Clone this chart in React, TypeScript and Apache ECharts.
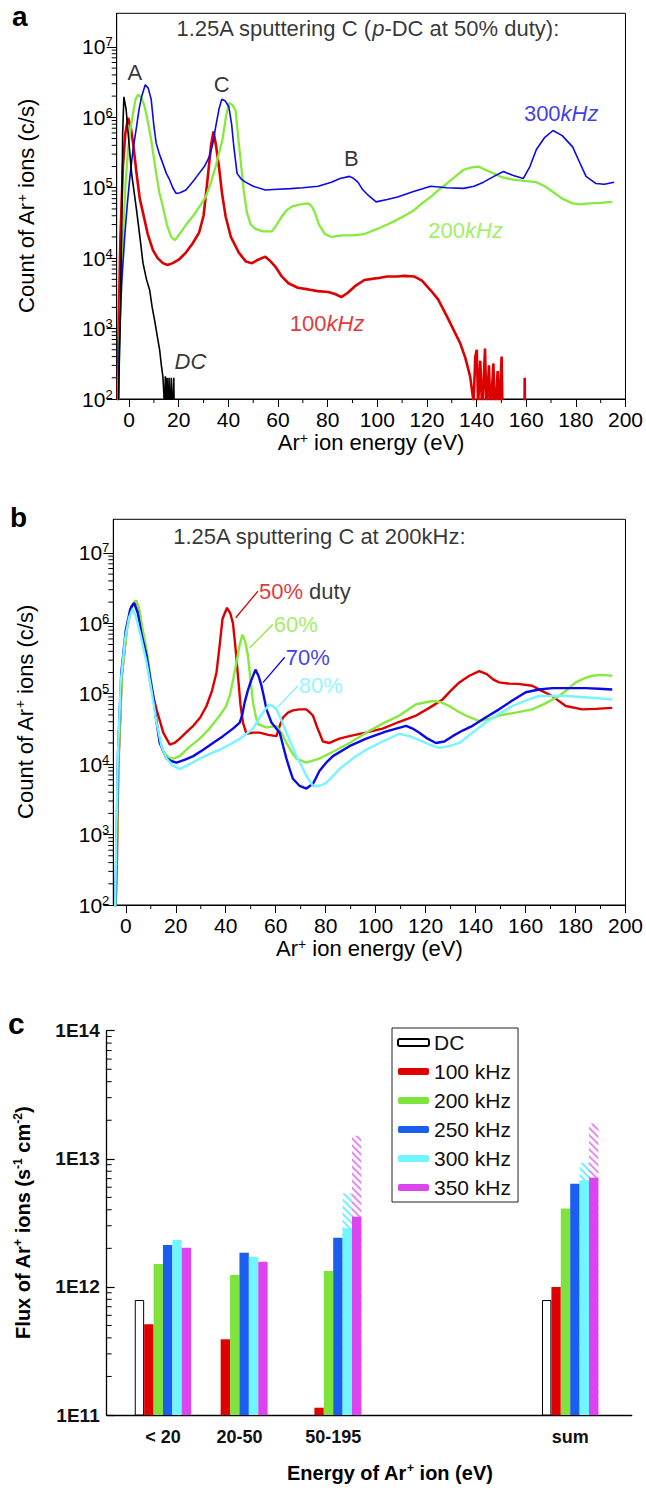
import React, { useEffect, useRef } from 'react';
import * as echarts from 'echarts';

const FONT = '"Liberation Sans", Arial, Helvetica, sans-serif';

// ---------- axis ticks ----------
const energyTicks = [0, 20, 40, 60, 80, 100, 120, 140, 160, 180, 200];
const energyMinorTicks = [10, 30, 50, 70, 90, 110, 130, 150, 170, 190];
const countTicks = [1e2, 1e3, 1e4, 1e5, 1e6, 1e7];
const fluxTicks = [1e11, 1e12, 1e13, 1e14];
const minorMultipliers = [2, 3, 4, 5, 6, 7, 8, 9];

// ---------- panel a : 1.25A sputtering C, p-DC 50% duty ----------
const aDC: number[][] = [
  [-4.5, 50], [-3.7, 870], [-3, 2.3e4], [-2.6, 6e5], [-2.1, 1.95e6], [-1.2, 1.3e6], [-0.4, 6e5],
  [1, 1.6e5], [3, 4.8e4], [4.5, 1.8e4], [5.6, 8.5e3], [7, 5e3], [8.3, 3.5e3], [9.3, 2e3],
  [10.3, 1.3e3], [11.3, 800], [12.3, 500], [13, 300], [13.6, 210], [14, 120], [14.3, 60],
  [14.6, 210], [14.9, 60], [15.3, 200], [15.6, 50], [16.1, 200], [16.4, 50], [17, 200],
  [17.2, 50], [18, 200], [18.2, 50],
];
const a100: number[][] = [
  [-4.6, 50], [-4.4, 500], [-3.5, 2e4], [-2.5, 2e5], [-1.5, 6e5], [-0.4, 9.8e5], [0.6, 7.5e5],
  [1.6, 4.3e5], [3, 1.6e5], [4.3, 7e4], [5.6, 4.4e4], [7.5, 2.2e4], [9.6, 1.3e4], [11.5, 1e4],
  [13.6, 8.5e3], [15.5, 8e3], [17.6, 8.5e3], [20, 9.5e3], [22.9, 1.2e4], [25.5, 1.6e4],
  [28.2, 2.3e4], [30, 4e4], [31.6, 1.3e5], [33, 4e5], [34, 6.3e5], [35, 4e5], [36.2, 2e5],
  [37.5, 8e4], [38.9, 3.9e4], [41, 2e4], [44.2, 1.2e4], [47, 9e3], [49.5, 8.5e3], [52, 9.5e3],
  [54.9, 1.05e4], [57, 9e3], [58.9, 7.6e3], [61.5, 5.5e3], [64.2, 4.4e3], [68, 3.8e3],
  [72.2, 3.6e3], [76, 3.4e3], [80.2, 3.3e3], [83, 3.1e3], [85.5, 2.8e3], [88, 3.2e3],
  [91, 4e3], [94.8, 4.9e3], [100, 5.2e3], [104, 5.5e3], [108, 5.5e3], [111, 5.6e3],
  [114.8, 5.5e3], [118, 4.8e3], [121.5, 3.5e3], [124.5, 2.6e3], [128, 1.5e3], [130.5, 1e3],
  [133.4, 620], [135.5, 380], [137.4, 210], [138.8, 90], [139.5, 400], [140.1, 500],
  [140.6, 80], [141.5, 350], [142.3, 60], [143.4, 520], [144, 70], [145, 300], [145.6, 60],
  [146.8, 320], [147.3, 50], [148.5, 250], [149, 60], [150.1, 400], [150.5, 50],
  [159.3, 50], [159.4, 200], [159.5, 50],
];
const a200: number[][] = [
  [-4.6, 50], [-4.2, 200], [-3.5, 2e3], [-2.4, 2.3e4], [-1.4, 1.2e5], [-0.4, 3.5e5], [0.6, 7e5],
  [1.6, 1.15e6], [2.6, 1.8e6], [3.6, 2.1e6], [5, 1.9e6], [6.3, 1.4e6], [7.6, 8.5e5],
  [8.9, 4.8e5], [10.9, 1.6e5], [12.2, 8.5e4], [13.6, 5.4e4], [15.2, 3e4], [16.9, 2e4],
  [18.5, 1.8e4], [20.3, 2.2e4], [23, 3e4], [25.6, 3.9e4], [28.2, 5.3e4], [30.9, 7.4e4],
  [33, 1.2e5], [34.9, 2e5], [36.3, 3.2e5], [37.6, 4.8e5], [39, 1e6], [40.2, 1.6e6],
  [41.6, 1.5e6], [42.9, 1.26e6], [44, 5e5], [44.9, 2.5e5], [46.2, 9e4], [47.5, 4.4e4],
  [49, 3e4], [50.9, 2.6e4], [54, 2.4e4], [57.5, 2.4e4], [59.5, 3e4], [61.5, 3.9e4],
  [63.5, 4.8e4], [65.5, 5.4e4], [69, 5.8e4], [72.2, 6e4], [73.5, 5.5e4], [74.9, 4.4e4],
  [76.5, 3e4], [78.9, 2.2e4], [81.5, 2e4], [86, 2.1e4], [90, 2.1e4], [94.8, 2.2e4],
  [100, 2.6e4], [104, 3e4], [108, 3.5e4], [111, 4e4], [114.8, 4.8e4], [118, 6e4],
  [121.5, 7.4e4], [125, 9.5e4], [128.1, 1.15e5], [131.5, 1.45e5], [134.8, 1.8e5],
  [138, 1.95e5], [140.8, 2e5], [143.5, 1.8e5], [146.8, 1.6e5], [150.5, 1.4e5],
  [154.8, 1.3e5], [159, 1.25e5], [164.1, 1.2e5], [167.5, 1.05e5], [170.8, 8.7e4],
  [174.5, 7e4], [178.7, 6e4], [182, 5.8e4], [185.4, 6e4], [190, 6.1e4], [194.7, 6.3e4],
];
const a300: number[][] = [
  [-4.3, 50], [-4, 500], [-3, 4.4e3], [-1.7, 2.2e4], [-0.7, 6e4], [0.3, 1.4e5], [1.6, 3.5e5],
  [3, 7.4e5], [4, 1.3e6], [5, 1.95e6], [6.5, 2.9e6], [7.7, 2.6e6], [8.9, 1.8e6], [9.9, 8e5],
  [10.9, 4.3e5], [12.2, 3e5], [13.6, 2.2e5], [15, 1.6e5], [16.3, 1.3e5], [17.6, 1e5],
  [18.9, 8.3e4], [20.5, 8.5e4], [22.9, 9.3e4], [25.5, 1.2e5], [28.2, 1.6e5], [30.3, 2e5],
  [32.2, 2.7e5], [33.6, 4e5], [34.9, 7.4e5], [36.2, 1.3e6], [37.3, 1.8e6], [38.8, 1.7e6],
  [40.2, 1.4e6], [41.3, 8e5], [42.2, 3.8e5], [43.5, 1.6e5], [45, 1.35e5], [46.9, 1.2e5],
  [50, 1.05e5], [54.9, 9.3e4], [60, 9.5e4], [65, 9.7e4], [70, 1e5], [76.2, 1.05e5],
  [81.5, 1.2e5], [85, 1.35e5], [88.8, 1.45e5], [90.5, 1.35e5], [92.2, 1.2e5], [94, 9.5e4],
  [96.2, 7.9e4], [99.5, 6.3e4], [104, 6.8e4], [108.2, 7.4e4], [114, 8.7e4], [121.5, 1.05e5],
  [128, 1e5], [134.8, 9.8e4], [139, 1.05e5], [142.8, 1.2e5], [147, 1.45e5], [150.8, 1.7e5],
  [154.5, 1.5e5], [158.8, 1.35e5], [161.5, 2e5], [164.1, 3.5e5], [167.5, 5.2e5],
  [170.8, 6.5e5], [174.5, 5.5e5], [178.7, 3.8e5], [181.5, 2.3e5], [184.1, 1.45e5],
  [188, 1.15e5], [191.5, 1.12e5], [195.4, 1.2e5],
];

// ---------- panel b : 200 kHz at different duty ----------
const b50: number[][] = [
  [-4.3, 50], [-3.6, 330], [-3, 8.5e3], [-1.6, 1.8e5], [0.35, 8.1e5], [2.3, 1.75e6],
  [4.06, 2.1e6], [5.2, 1.6e6], [6.3, 9.1e5], [8.3, 3.1e5], [10.3, 1.15e5], [12.3, 6e4],
  [15, 2.8e4], [17.6, 1.9e4], [19.5, 2e4], [21.6, 2.3e4], [24.5, 2.9e4], [27, 3.5e4],
  [29.8, 4.6e4], [32.3, 6.7e4], [34.5, 1.1e5], [36.3, 2e5], [37.6, 5e5], [38.7, 1.15e6],
  [40.5, 1.66e6], [41.8, 1.4e6], [42.9, 1e6], [43.9, 4.5e5], [44.9, 1.8e5], [45.9, 7e4],
  [46.9, 3.9e4], [48.3, 2.7e4], [51, 2.8e4], [53.6, 2.8e4], [57, 2.6e4], [60.3, 2.5e4],
  [61.6, 3.5e4], [62.9, 4.6e4], [64.9, 5.4e4], [66.9, 5.8e4], [69.5, 6e4], [72.2, 6e4],
  [73.5, 5.5e4], [74.9, 4.9e4], [76.5, 3.4e4], [78.9, 2.1e4], [81.5, 2e4], [85.5, 2.3e4],
  [89.5, 2.5e4], [96, 2.8e4], [102.8, 3.2e4], [109.5, 4e4], [116.2, 4.9e4], [121.5, 6.3e4],
  [126.8, 8.3e4], [130, 1.1e5], [133.5, 1.45e5], [137.5, 1.8e5], [141.5, 2.1e5],
  [144.5, 1.9e5], [147, 1.6e5], [149.4, 1.45e5], [153, 1.4e5], [157, 1.38e5], [162.7, 1.3e5],
  [166.5, 1.1e5], [170.7, 9.3e4], [173.5, 7.8e4], [176.1, 6.7e4], [182.7, 6e4], [188, 6.1e4],
  [194.7, 6.3e4],
];
const b60: number[][] = [
  [-4.3, 50], [-3.7, 400], [-3, 1e4], [-1.5, 2e5], [0.5, 8.5e5], [2.5, 1.8e6], [4.2, 2.1e6],
  [5.5, 1.5e6], [6.5, 9e5], [8.3, 4.3e5], [10, 1.6e5], [11, 9e4], [12.3, 3.9e4], [13.6, 2.2e4],
  [15, 1.5e4], [17, 1.25e4], [19, 1.2e4], [21.6, 1.3e4], [25, 1.7e4], [29.6, 2.3e4],
  [33.5, 3.2e4], [37.6, 4.9e4], [40, 6.5e4], [41.6, 9.3e4], [43, 1.6e5], [44.3, 2.8e5],
  [45.5, 4.8e5], [46.7, 6.9e5], [47.8, 5.5e5], [48.9, 3.5e5], [49.9, 1.6e5], [50.9, 7.6e4],
  [52, 4.8e4], [52.9, 3.7e4], [56.3, 3.3e4], [60.3, 3.5e4], [62.3, 2.8e4], [64.3, 2e4],
  [66.3, 1.5e4], [68.3, 1.2e4], [72.2, 1.05e4], [77.5, 1.2e4], [82.9, 1.5e4], [89.5, 2e4],
  [96.2, 2.8e4], [103, 3.8e4], [109.5, 4.9e4], [116.2, 7.1e4], [122.8, 7.9e4], [126, 7.6e4],
  [129.5, 6.7e4], [133, 5.6e4], [136.1, 4.9e4], [141.5, 4.1e4], [145.5, 4.4e4], [149.4, 4.9e4],
  [156, 5.4e4], [162.7, 6e4], [168, 7.3e4], [173.4, 9.3e4], [176.8, 1.15e5], [180.1, 1.45e5],
  [183.5, 1.65e5], [186.7, 1.8e5], [190.5, 1.85e5], [194.7, 1.8e5],
];
const b70: number[][] = [
  [-4.4, 50], [-3.8, 500], [-3.1, 1.5e4], [-1.8, 2e5], [0, 8e5], [1.8, 1.6e6], [3.3, 1.95e6],
  [4.8, 1.4e6], [6.3, 7e5], [8.3, 3.5e5], [9.7, 1.7e5], [11, 9.3e4], [12.3, 4e4], [13.6, 2e4],
  [16.3, 1.2e4], [18.5, 1.1e4], [20.3, 1.05e4], [23.5, 1.15e4], [27, 1.3e4], [31, 1.6e4],
  [34.9, 2e4], [38.9, 2.5e4], [42.9, 3.2e4], [45.6, 3.9e4], [46.6, 5e4], [47.6, 7.6e4],
  [48.8, 1.1e5], [49.9, 1.45e5], [51.9, 2.2e5], [53.1, 1.8e5], [54.3, 1.3e5], [55.3, 9e4],
  [56.3, 6e4], [58.3, 3.9e4], [61.6, 2.8e4], [63, 1.8e4], [64.3, 1.2e4], [65.6, 8.5e3],
  [66.9, 6.2e3], [69.6, 4.9e3], [72.3, 4.5e3], [75, 5.3e3], [77.5, 8e3], [80.2, 1.05e4],
  [82.9, 1.3e4], [89.5, 1.8e4], [96.2, 2.3e4], [104, 2.9e4], [112.2, 3.5e4], [114.8, 3.2e4],
  [117.5, 2.8e4], [120.8, 2.3e4], [124.1, 2e4], [127.5, 2.1e4], [130.8, 2.5e4], [134.8, 3e4],
  [138.8, 3.5e4], [144, 4.6e4], [149.4, 6e4], [154.7, 8e4], [160.1, 1.05e5], [165.4, 1.15e5],
  [170.7, 1.2e5], [177.4, 1.2e5], [184, 1.2e5], [189.4, 1.18e5], [194.7, 1.15e5],
];
const b80: number[][] = [
  [-4.4, 50], [-3.9, 560], [-3.2, 1.2e4], [-2, 1.5e5], [-0.3, 6e5], [1.3, 1.2e6], [2.7, 1.6e6],
  [4.2, 1.2e6], [6, 6.5e5], [8.3, 2.8e5], [10.3, 1.1e5], [12.3, 3.9e4], [14.3, 1.8e4],
  [16.3, 1.2e4], [18.9, 9.5e3], [21.6, 8.5e3], [25.6, 1e4], [29.6, 1.2e4], [33.6, 1.4e4],
  [37.6, 1.6e4], [41.6, 1.9e4], [45.6, 2.3e4], [48.3, 2.7e4], [50.9, 3.2e4], [52.9, 4.2e4],
  [54.9, 5.4e4], [57.3, 7e4], [58.8, 6.7e4], [60.3, 6e4], [62.3, 4.2e4], [64.3, 2.8e4],
  [66.3, 1.9e4], [68.3, 1.3e4], [70.3, 9.5e3], [72.2, 6.9e3], [74.9, 4.9e3], [77.5, 4.9e3],
  [80.2, 5.4e3], [82.9, 6.8e3], [85.5, 8.5e3], [90.8, 1.2e4], [96.2, 1.6e4], [102.8, 2.1e4],
  [109.5, 2.7e4], [113.5, 2.5e4], [117.5, 2.2e4], [121.5, 1.9e4], [125.5, 1.7e4],
  [129.5, 1.8e4], [133.5, 2e4], [138.8, 2.8e4], [144.1, 3.9e4], [149.4, 5.2e4], [154.7, 6.7e4],
  [160, 8e4], [165.4, 9.3e4], [170.7, 9.3e4], [176.1, 9.3e4], [182, 9e4], [188, 8.7e4],
  [194.7, 8.3e4],
];

// ---------- panel c : flux of Ar+ ions ----------
const energyGroups = ['< 20', '20-50', '50-195', 'sum'];
const groupPos = [0.75, 1.77, 3.02, 6.18];
const fluxDC = [7.9e11, null, null, 7.9e11];
const flux100 = [5.1e11, 3.9e11, 1.14e11, 1.0e12];
const flux200 = [1.51e12, 1.24e12, 1.33e12, 4.1e12];
const flux250 = [2.12e12, 1.85e12, 2.42e12, 6.4e12];
const flux300 = [2.32e12, 1.72e12, 2.87e12, 6.8e12];
const flux300Upper = [null, null, 5.38e12, 9.3e12];
const flux350 = [2.02e12, 1.57e12, 3.53e12, 7.1e12];
const flux350Upper = [null, null, 1.51e13, 1.89e13];
const noFlux = [null, null, null, null];

// ---------- colours ----------
const RED = '#dd0000';
const GREEN = '#86ea3c';
const BLUE = '#0a0ae6';
const CYAN = '#77f4ff';
const C_RED = '#e00000';
const C_GREEN = '#7ee33a';
const C_BLUE = '#1a5ef0';
const C_CYAN = '#70f6ff';
const C_MAG = '#dc44f0';

const mk = (color: string, italic = false, size = 22) => ({
  color, fontSize: size, fontFamily: FONT, fontStyle: italic ? 'italic' : 'normal',
});
const annRich: any = {
  k: mk('#000'), ki: mk('#000', true), r: mk(RED), ri: mk(RED, true), g: mk(GREEN),
  gi: mk(GREEN, true), b: mk(BLUE), bi: mk(BLUE, true), c: mk(CYAN),
};

const annotA = [
  { text: '{k|1.25A sputtering C (}{ki|p}{k|-DC at 50% duty):}', x: 19.1, y: 1.8e7, align: 'left' },
  { text: '{k|A}', x: 2.3, y: 4.4e6, align: 'center' },
  { text: '{k|C}', x: 37.3, y: 2.9e6, align: 'center' },
  { text: '{k|B}', x: 89.5, y: 2.6e5, align: 'center' },
  { text: '{b|300}{bi|kHz}', x: 174.1, y: 1.15e6, align: 'center' },
  { text: '{g|200}{gi|kHz}', x: 135.6, y: 2.5e4, align: 'center' },
  { text: '{r|100}{ri|kHz}', x: 79.8, y: 1.19e3, align: 'center' },
  { text: '{ki|DC}', x: 24.7, y: 340, align: 'center' },
];
const annotB = [
  { text: '{k|1.25A sputtering C at 200kHz:}', x: 19.0, y: 1.72e7, align: 'left' },
  { text: '{r|50%}{k| duty}', x: 53.3, y: 2.86e6, align: 'left' },
  { text: '{g|60%}', x: 59.2, y: 9.6e5, align: 'left' },
  { text: '{b|70%}', x: 64.0, y: 3.3e5, align: 'left' },
  { text: '{c|80%}', x: 69.2, y: 1.29e5, align: 'left' },
];
const leadersB = [
  { from: [44.0, 1.2e6], to: [52.9, 2.86e6], color: RED },
  { from: [49.6, 4.5e5], to: [58.8, 9.6e5], color: GREEN },
  { from: [54.9, 1.44e5], to: [63.6, 3.3e5], color: BLUE },
  { from: [60.3, 6.2e4], to: [68.8, 1.29e5], color: CYAN },
];

function buildMinor(ticks: number[], fixedX: number, kind: number) {
  const out: number[][] = [];
  for (let i = 0; i < ticks.length - 1; i++) {
    for (const m of minorMultipliers) out.push([fixedX, ticks[i] * m, kind]);
  }
  return out;
}

const tickRender = (params: any, api: any) => {
  const p = api.coord([api.value(0), api.value(1)]);
  const t = api.value(2);
  let x2 = p[0];
  let y2 = p[1];
  if (t === 0) x2 = p[0] - 5;
  else if (t === 1) y2 = p[1] + 4;
  else x2 = p[0] + 5;
  return { type: 'line', shape: { x1: p[0], y1: p[1], x2, y2 }, style: { stroke: '#000', lineWidth: 1 } };
};

const supRich = (size: number, weight: string = 'normal') => ({
  n: { fontSize: size, fontFamily: FONT, color: '#000', fontWeight: weight, lineHeight: size + 2 },
  s: { fontSize: Math.round(size * 0.62), fontFamily: FONT, color: '#000', fontWeight: weight, verticalAlign: 'top', lineHeight: Math.round(size * 0.62) },
});

function energyXAxis(gi: number) {
  return {
    gridIndex: gi, type: 'value', min: -5, max: 200,
    axisLine: { show: true, onZero: false, lineStyle: { color: '#000', width: 1 } },
    axisTick: { show: true, inside: false, length: 8, customValues: energyTicks, lineStyle: { color: '#000' } },
    axisLabel: { show: true, customValues: energyTicks, fontSize: 21, fontFamily: FONT, color: '#000', margin: 10 },
    splitLine: { show: false },
    name: '{n|Ar}{s|+}{n| ion energy (eV)}', nameLocation: 'middle', nameGap: 31,
    nameTextStyle: { rich: supRich(22) },
  };
}
function countYAxis(gi: number, gap: number) {
  return {
    gridIndex: gi, type: 'log', logBase: 10, min: 100, max: 3e7,
    axisLine: { show: true, onZero: false, lineStyle: { color: '#000', width: 1 } },
    axisTick: { show: true, inside: false, length: 10, customValues: countTicks, lineStyle: { color: '#000' } },
    axisLabel: {
      show: true, customValues: countTicks, margin: 4,
      formatter: (v: number) => `{n|10}{s|${Math.round(Math.log10(v))}}`,
      rich: supRich(21),
    },
    minorTick: { show: false },
    splitLine: { show: false },
    name: '{n|Count of Ar}{s|+}{n| ions (c/s)}', nameLocation: 'middle', nameGap: gap,
    nameTextStyle: { rich: supRich(22) },
  };
}

function lineSeries(data: number[][], color: string, gi: number, width: number) {
  return {
    type: 'line', xAxisIndex: gi, yAxisIndex: gi, data, showSymbol: false, symbol: 'none',
    lineStyle: { color, width }, itemStyle: { color }, clip: true, silent: true, z: 3,
  };
}
function annotSeries(list: any[], gi: number) {
  return {
    type: 'scatter', xAxisIndex: gi, yAxisIndex: gi, symbolSize: 0, silent: true, z: 10,
    label: { show: true, position: 'inside', rich: annRich, formatter: (p: any) => p.data.text },
    data: list.map((a) => ({ value: [a.x, a.y], text: a.text, label: { align: a.align } })),
  };
}

const hatch = (color: string) => ({
  symbol: 'rect', symbolSize: 1, color, dashArrayX: [1, 0], dashArrayY: [2, 3], rotation: Math.PI / 4,
});

export default function App() {
  const ref = useRef<HTMLDivElement>(null);
  useEffect(() => {
    if (!ref.current) return;
    const chart = echarts.init(ref.current, undefined, { renderer: 'svg' });
    const barData = (vals: (number | null)[]) => groupPos.map((p, i) => [p, vals[i] == null ? '-' : vals[i]]);
    const BW = 9.4;
    const barBase = { type: 'bar', xAxisIndex: 2, yAxisIndex: 2, barWidth: BW, barGap: '0%', silent: true, z: 3 };
    const hatchBase = { type: 'bar', xAxisIndex: 3, yAxisIndex: 2, barWidth: BW, barGap: '0%', silent: true, z: 2 };

    const fluxX = {
      gridIndex: 2, type: 'value', min: 0, max: 7,
      axisLine: { show: true, onZero: false, lineStyle: { color: '#000', width: 1.3 } },
      axisTick: { show: false },
      axisLabel: {
        show: true, customValues: groupPos, margin: 13, fontSize: 18, fontWeight: 'bold', fontFamily: FONT, color: '#111',
        formatter: (v: number) => {
          let best = 0;
          groupPos.forEach((p, i) => { if (Math.abs(p - v) < Math.abs(groupPos[best] - v)) best = i; });
          return energyGroups[best];
        },
      },
      splitLine: { show: false },
    };

    const option: any = {
      animation: false,
      textStyle: { fontFamily: FONT },
      grid: [
        { left: 116.7, top: 13.3, width: 513.3, height: 385.7, show: true, borderColor: '#000', borderWidth: 1, containLabel: false },
        { left: 113.3, top: 519.3, width: 513.4, height: 385.7, show: true, borderColor: '#000', borderWidth: 1, containLabel: false },
        { left: 106.7, top: 1030.7, width: 525, height: 384.3, show: false, containLabel: false },
      ],
      xAxis: [
        energyXAxis(0),
        energyXAxis(1),
        fluxX,
        { ...fluxX, show: false, axisLabel: { show: false }, axisLine: { show: false } },
      ],
      yAxis: [
        countYAxis(0, 78),
        countYAxis(1, 76),
        {
          gridIndex: 2, type: 'log', logBase: 10, min: 1e11, max: 1e14,
          axisLine: { show: true, onZero: false, lineStyle: { color: '#000', width: 1.3 } },
          axisTick: { show: true, inside: true, length: 8, customValues: fluxTicks, lineStyle: { color: '#000', width: 1.2 } },
          axisLabel: {
            show: true, customValues: fluxTicks, margin: 7, fontSize: 19, fontWeight: 'bold', fontFamily: FONT, color: '#111',
            formatter: (v: number) => '1E' + Math.round(Math.log10(v)),
          },
          minorTick: { show: false },
          splitLine: { show: false },
          name: '{n|Flux of Ar}{s|+}{n| ions (s}{s|-1}{n| cm}{s|-2}{n|)}', nameLocation: 'middle', nameGap: 73,
          nameTextStyle: { rich: supRich(20, 'bold') },
        },
      ],
      legend: {
        data: ['DC', '100 kHz', '200 kHz', '250 kHz', '300 kHz', '350 kHz'],
        orient: 'vertical', left: 392, top: 1028, itemWidth: 31, itemHeight: 7, itemGap: 8,
        padding: [4, 7, 4, 5], borderColor: '#222', borderWidth: 1, icon: 'roundRect', selectedMode: false,
        textStyle: { fontSize: 21, fontFamily: FONT, color: '#111' },
      },
      graphic: [
        { type: 'text', left: 12, top: 2, style: { text: 'a', fontSize: 28, fontWeight: 'bold', fontFamily: FONT, fill: '#000' } },
        { type: 'text', left: 10, top: 503, style: { text: 'b', fontSize: 28, fontWeight: 'bold', fontFamily: FONT, fill: '#000' } },
        { type: 'text', left: 8, top: 1008, style: { text: 'c', fontSize: 30, fontWeight: 'bold', fontFamily: FONT, fill: '#000' } },
        {
          type: 'text', left: 287, top: 1462,
          style: {
            text: '{n|Energy of Ar}{s|+}{n| ion (eV)}', rich: supRich(20, 'bold'), fill: '#000',
          },
        },
      ],
      series: [
        // minor ticks
        { type: 'custom', xAxisIndex: 0, yAxisIndex: 0, silent: true, clip: false, renderItem: tickRender,
          data: [...buildMinor(countTicks, -5, 0), ...energyMinorTicks.map((x) => [x, 100, 1])] },
        { type: 'custom', xAxisIndex: 1, yAxisIndex: 1, silent: true, clip: false, renderItem: tickRender,
          data: [...buildMinor(countTicks, -5, 0), ...energyMinorTicks.map((x) => [x, 100, 1])] },
        { type: 'custom', xAxisIndex: 2, yAxisIndex: 2, silent: true, clip: false, renderItem: tickRender,
          data: buildMinor(fluxTicks, 0, 2) },
        // panel a
        lineSeries(a100, RED, 0, 2.6),
        lineSeries(a200, GREEN, 0, 2.3),
        lineSeries(a300, BLUE, 0, 1.6),
        lineSeries(aDC, '#000', 0, 1.6),
        annotSeries(annotA, 0),
        // panel b
        lineSeries(b50, RED, 1, 2.4),
        lineSeries(b60, GREEN, 1, 2.4),
        lineSeries(b70, BLUE, 1, 2.4),
        lineSeries(b80, CYAN, 1, 2.4),
        {
          type: 'lines', coordinateSystem: 'cartesian2d', xAxisIndex: 1, yAxisIndex: 1, silent: true, z: 5,
          lineStyle: { width: 1.3, opacity: 1 },
          data: leadersB.map((l) => ({ coords: [l.from, l.to], lineStyle: { color: l.color } })),
        },
        annotSeries(annotB, 1),
        // panel c : hatched upper ranges (drawn behind the solid bars, same slots)
        { ...hatchBase, name: 'slot DC', data: barData(noFlux) },
        { ...hatchBase, name: 'slot 100', data: barData(noFlux) },
        { ...hatchBase, name: 'slot 200', data: barData(noFlux) },
        { ...hatchBase, name: 'slot 250', data: barData(noFlux) },
        { ...hatchBase, name: '300 kHz upper', data: barData(flux300Upper), itemStyle: { color: '#ffffff', decal: hatch('#6ff0ff') } },
        { ...hatchBase, name: '350 kHz upper', data: barData(flux350Upper), itemStyle: { color: '#ffffff', decal: hatch('#e58af2') } },
        // panel c : solid bars
        { ...barBase, name: 'DC', data: barData(fluxDC), itemStyle: { color: '#fff', borderColor: '#000', borderWidth: 1 } },
        { ...barBase, name: '100 kHz', data: barData(flux100), itemStyle: { color: C_RED } },
        { ...barBase, name: '200 kHz', data: barData(flux200), itemStyle: { color: C_GREEN } },
        { ...barBase, name: '250 kHz', data: barData(flux250), itemStyle: { color: C_BLUE } },
        { ...barBase, name: '300 kHz', data: barData(flux300), itemStyle: { color: C_CYAN } },
        { ...barBase, name: '350 kHz', data: barData(flux350), itemStyle: { color: C_MAG } },
      ],
    };
    chart.setOption(option);
    return () => chart.dispose();
  }, []);
  return <div ref={ref} style={{ position: 'absolute', left: 0, top: 0, width: 646, height: 1490 }} />;
}
